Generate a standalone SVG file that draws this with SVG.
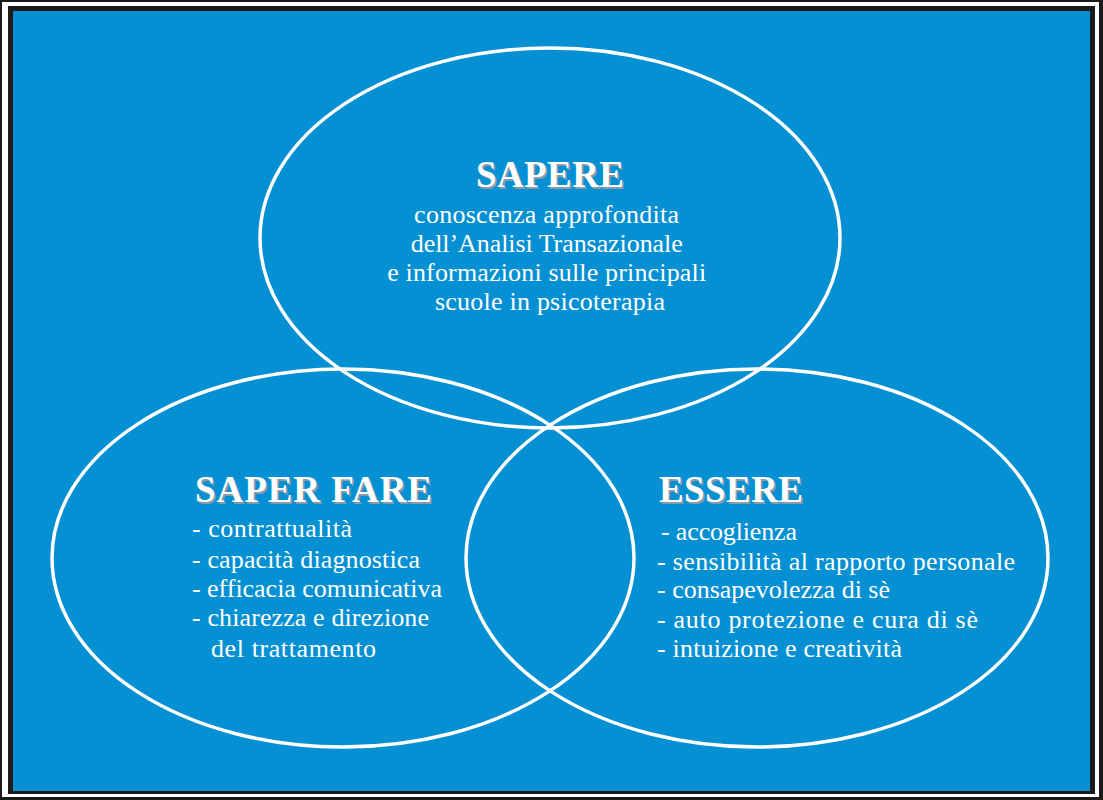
<svg xmlns="http://www.w3.org/2000/svg" width="1103" height="800" viewBox="0 0 1103 800">
<style>
.ring{fill:none;stroke:#ffffff;stroke-width:3.5}
.title{font-family:"Liberation Serif","Times New Roman",serif;font-size:37px;font-weight:bold}
.sh{fill:#8a9aa8}
.tw{fill:#ffffff}
.body{font-family:"Liberation Serif","Times New Roman",serif;font-size:26px;fill:#ffffff}
</style>
<rect x="0" y="0" width="1103" height="800" fill="#1b1b1b"/>
<rect x="2" y="2" width="1097" height="795" fill="#ffffff"/>
<rect x="8" y="6" width="1087" height="788" fill="#1b1b1b"/>
<rect x="13" y="11" width="1077" height="780" fill="#0490d2"/>
<g id="connectors"></g>
<g id="sapere">
<ellipse class="ring" cx="550" cy="238" rx="290" ry="190"/>
<text class="title sh" x="551.5" y="188.5" text-anchor="middle" textLength="148">SAPERE</text>
<text class="title tw" x="550" y="187" text-anchor="middle" textLength="148">SAPERE</text>
<text class="body" text-anchor="middle">
<tspan x="550" y="223" textLength="265">conoscenza approfondita</tspan>
<tspan x="550" y="252" textLength="272">dell’Analisi Transazionale</tspan>
<tspan x="550" y="281" textLength="319">e informazioni sulle principali</tspan>
<tspan x="550" y="310" textLength="230">scuole in psicoterapia</tspan>
</text>
</g>
<g id="saper-fare">
<ellipse class="ring" cx="343" cy="558" rx="291" ry="189"/>
<text class="title sh" x="196.5" y="503.5" textLength="237">SAPER FARE</text>
<text class="title tw" x="195" y="502" textLength="237">SAPER FARE</text>
<text class="body">
<tspan x="192" y="537" textLength="160">- contrattualità</tspan>
<tspan x="192" y="568" textLength="228">- capacità diagnostica</tspan>
<tspan x="192" y="597" textLength="250">- efficacia comunicativa</tspan>
<tspan x="192" y="626" textLength="237">- chiarezza e direzione</tspan>
<tspan x="211" y="657" textLength="165">del trattamento</tspan>
</text>
</g>
<g id="essere">
<ellipse class="ring" cx="757" cy="558" rx="291" ry="189"/>
<text class="title sh" x="660.5" y="503.5" textLength="144">ESSERE</text>
<text class="title tw" x="659" y="502" textLength="144">ESSERE</text>
<text class="body">
<tspan x="661" y="540" textLength="136">- accoglienza</tspan>
<tspan x="657" y="570" textLength="358">- sensibilità al rapporto personale</tspan>
<tspan x="657" y="598" textLength="233">- consapevolezza di sè</tspan>
<tspan x="657" y="628" textLength="321">- auto protezione e cura di sè</tspan>
<tspan x="657" y="657" textLength="245">- intuizione e creatività</tspan>
</text>
</g>
</svg>
